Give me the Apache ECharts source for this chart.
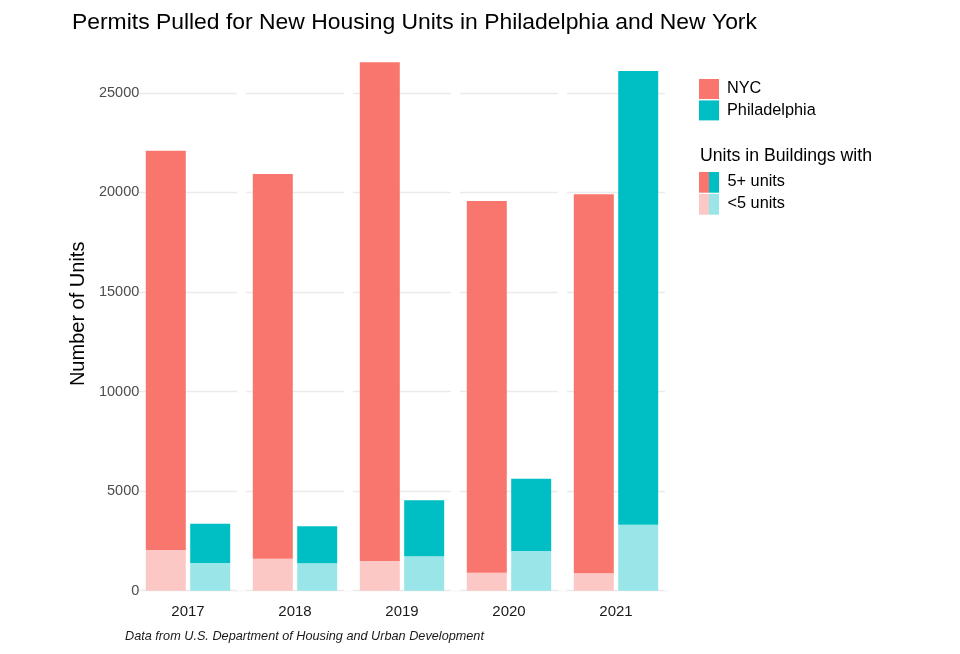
<!DOCTYPE html>
<html>
<head>
<meta charset="utf-8">
<script src="https://cdn.jsdelivr.net/npm/echarts@6/dist/echarts.min.js"></script>
<style>
html,body{margin:0;padding:0;background:#fff;}
#chart{width:960px;height:654px;}
</style>
</head>
<body>
<div id="chart"></div>
<script>
const years = ['2017', '2018', '2019', '2020', '2021'];
const nycUnder5 = [2045, 1605, 1490, 905, 875];
const nyc5Plus = [20045, 19315, 25040, 18660, 19025];
const phlUnder5 = [1390, 1375, 1730, 1995, 3315];
const phl5Plus = [1975, 1860, 2810, 3625, 22775];
const yTicks = [0, 5000, 10000, 15000, 20000, 25000];
const cityNames = ['NYC', 'Philadelphia'];
const sizeTitle = 'Units in Buildings with';
const sizeLabels = ['5+ units', '<5 units'];

const FONT = '"Liberation Sans", Arial, Helvetica, sans-serif';
const NYC = '#F8766D', PHL = '#00BFC4';
const NYC_L = '#FCC8C5', PHL_L = '#99E5E7';

const chart = echarts.init(document.getElementById('chart'));
const yMin = 0, yMax = 27800, yStep = yTicks[1] - yTicks[0];

chart.setOption({
  backgroundColor: '#ffffff',
  animation: false,
  textStyle: { fontFamily: FONT },
  title: {
    text: 'Permits Pulled for New Housing Units in Philadelphia and New York',
    left: 72, top: 11, padding: 0,
    textStyle: { fontFamily: FONT, fontSize: 22.9, fontWeight: 'normal', color: '#000' }
  },
  grid: { left: 134.5, right: 290.5, top: 37, bottom: 63.3, containLabel: false },
  legend: {
    data: cityNames,
    orient: 'vertical',
    left: 699, top: 79, padding: 0,
    itemWidth: 20, itemHeight: 20, itemGap: 1.4,
    icon: 'rect',
    selectedMode: false,
    textStyle: { fontFamily: FONT, fontSize: 16.3, color: '#000', padding: [0, 0, 0, 3] }
  },
  xAxis: {
    type: 'category',
    data: years,
    z: 1,
    axisLine: { show: false },
    axisTick: { show: false },
    axisLabel: { fontSize: 15, color: '#1a1a1a', margin: 14, fontFamily: FONT },
    splitLine: { show: true, lineStyle: { color: '#ffffff', width: 9 } }
  },
  yAxis: [
    {
      type: 'value', min: yMin, max: yMax, interval: yStep, z: 0,
      axisLine: { show: false }, axisTick: { show: false },
      axisLabel: { show: false },
      splitLine: { show: true, showMaxLine: false, lineStyle: { color: '#EBEBEB', width: 1.3 } }
    },
    {
      type: 'value', min: yMin, max: yMax, interval: yStep, z: 3, position: 'left', offset: 0,
      axisLine: { show: false }, axisTick: { show: false },
      splitLine: { show: false },
      axisLabel: {
        fontSize: 14.5, color: '#4d4d4d', margin: -4.8, fontFamily: FONT,
        formatter: v => (yTicks.indexOf(v) >= 0 ? String(v) : '')
      },
      name: 'Number of Units',
      nameLocation: 'middle',
      nameGap: 42.5,
      nameTextStyle: { fontSize: 20, color: '#000', fontFamily: FONT }
    }
  ],
  series: [
    { name: 'NYC <5 units', type: 'bar', stack: 'nyc', data: nycUnder5, barWidth: 40, barGap: '11%',
      itemStyle: { color: NYC_L }, yAxisIndex: 0, z: 2 },
    { name: cityNames[0], type: 'bar', stack: 'nyc', data: nyc5Plus, barWidth: 40, barGap: '11%',
      itemStyle: { color: NYC }, yAxisIndex: 0, z: 2 },
    { name: 'Philadelphia <5 units', type: 'bar', stack: 'phl', data: phlUnder5, barWidth: 40, barGap: '11%',
      itemStyle: { color: PHL_L }, yAxisIndex: 0, z: 2 },
    { name: cityNames[1], type: 'bar', stack: 'phl', data: phl5Plus, barWidth: 40, barGap: '11%',
      itemStyle: { color: PHL }, yAxisIndex: 0, z: 2 }
  ],
  graphic: [
    { type: 'text', left: 700, top: 147.5,
      style: { text: sizeTitle, font: '17.7px ' + FONT, fill: '#000' } },
    { type: 'rect', left: 699, top: 172, shape: { width: 10, height: 20.7 }, style: { fill: NYC } },
    { type: 'rect', left: 709, top: 172, shape: { width: 10, height: 20.7 }, style: { fill: PHL } },
    { type: 'rect', left: 699, top: 194, shape: { width: 10, height: 20.7 }, style: { fill: NYC_L } },
    { type: 'rect', left: 709, top: 194, shape: { width: 10, height: 20.7 }, style: { fill: PHL_L } },
    { type: 'text', left: 727.5, top: 174,
      style: { text: sizeLabels[0], font: '16.3px ' + FONT, fill: '#000' } },
    { type: 'text', left: 727.5, top: 196,
      style: { text: sizeLabels[1], font: '16.3px ' + FONT, fill: '#000' } },
    { type: 'text', left: 125, top: 629.5,
      style: { text: 'Data from U.S. Department of Housing and Urban Development',
               font: 'italic 12.7px ' + FONT, fill: '#1a1a1a' } }
  ]
});
</script>
</body>
</html>
